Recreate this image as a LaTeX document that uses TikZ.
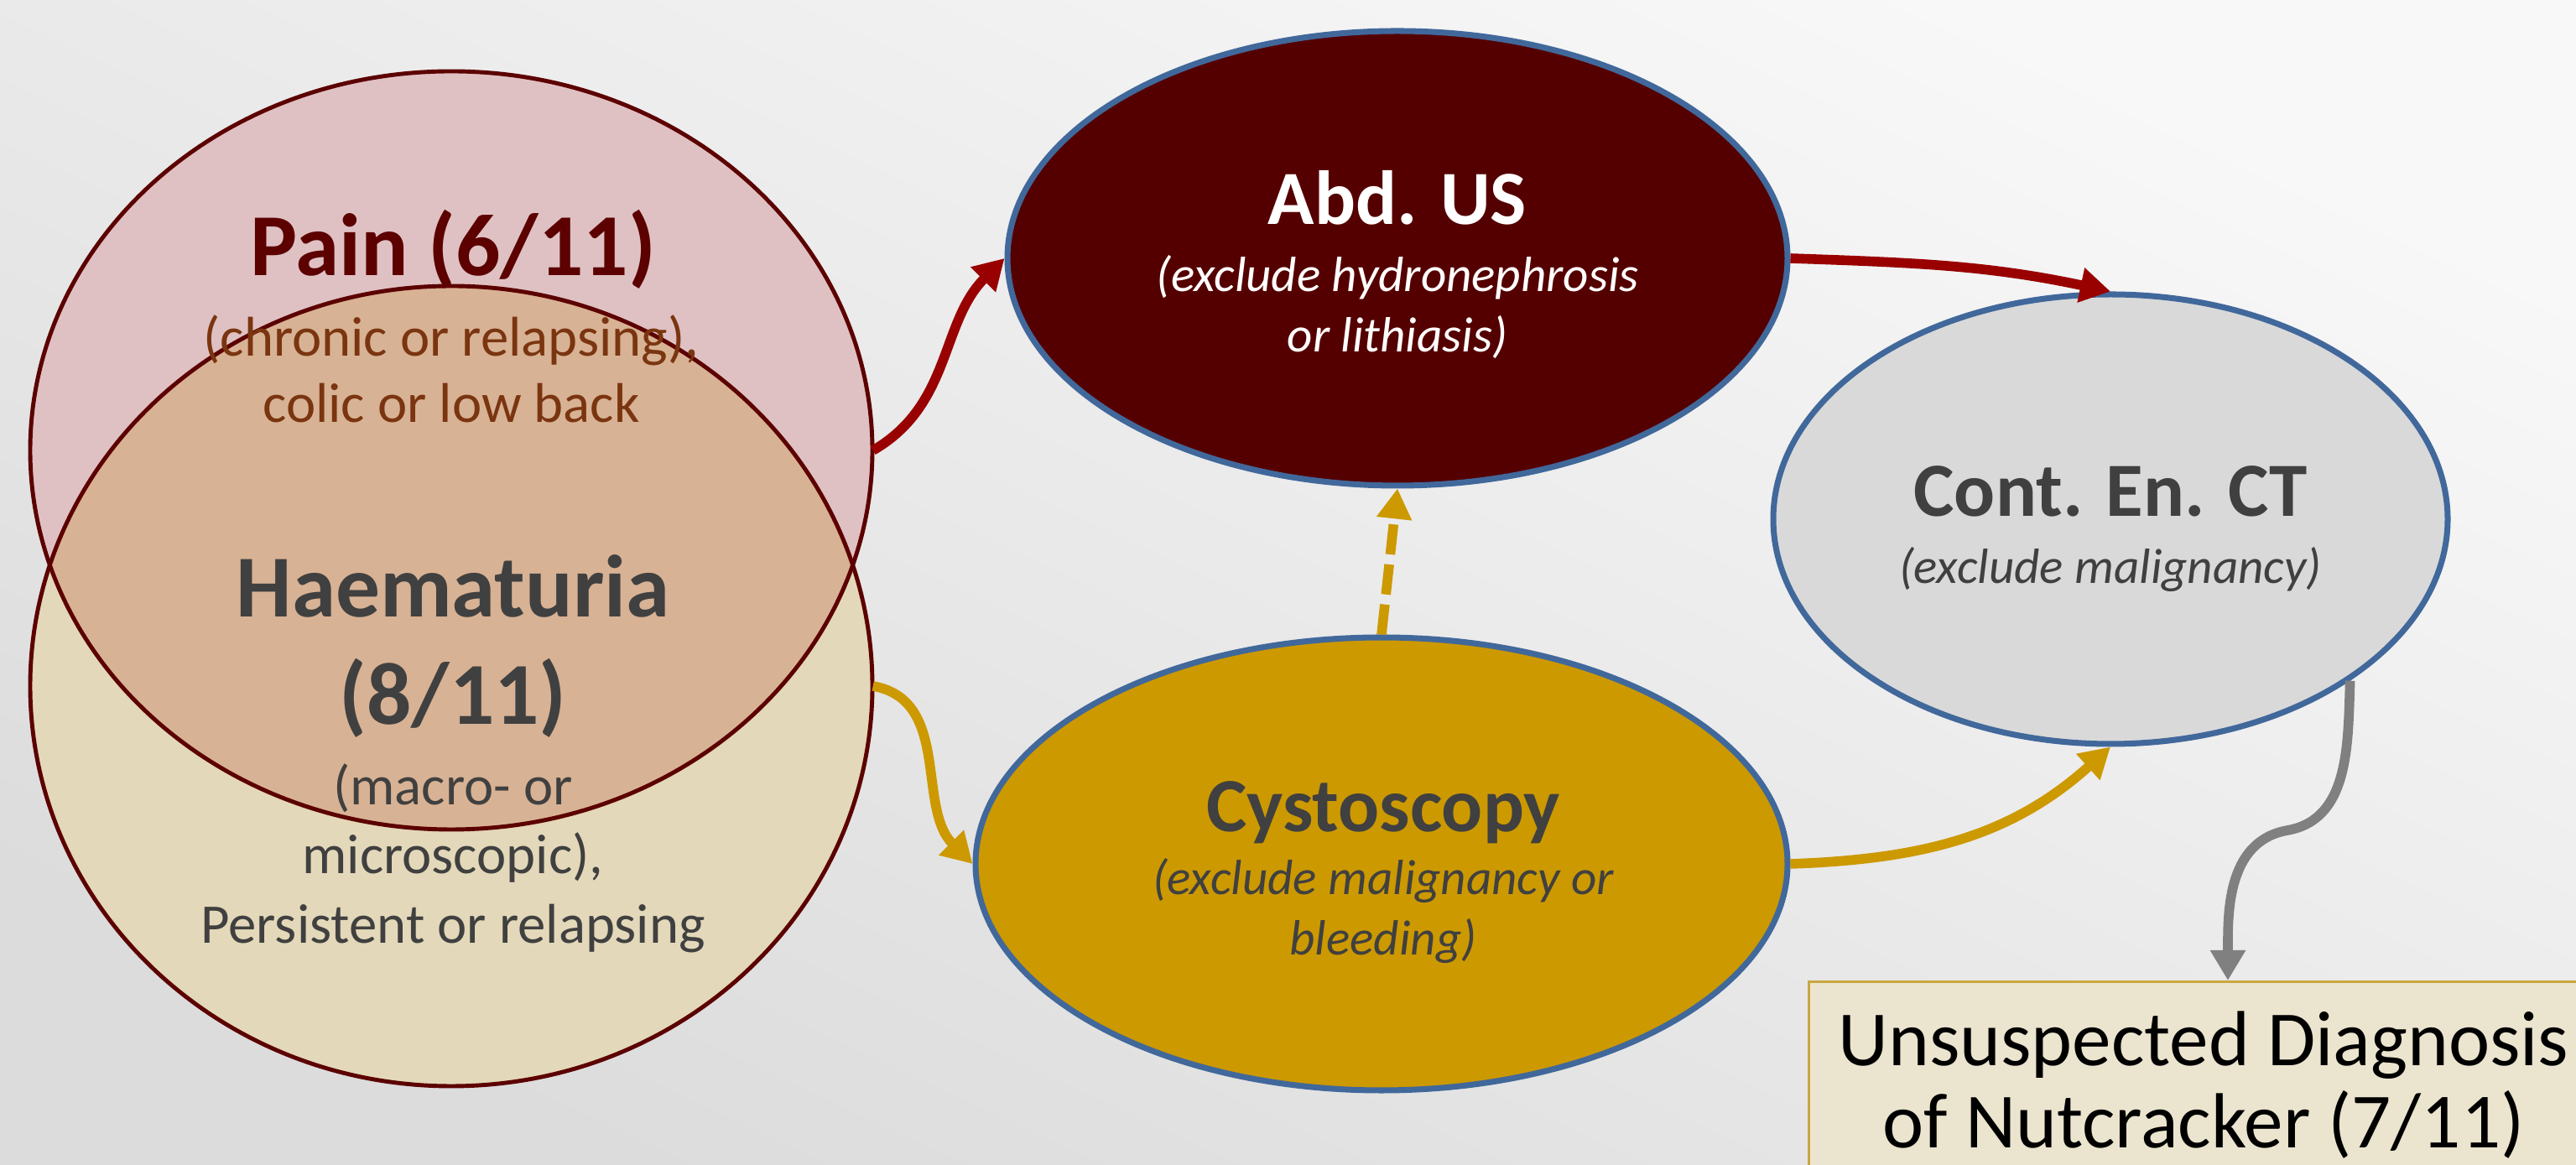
\documentclass[tikz,border=0pt]{standalone}
\usepackage{fontspec}
\setmainfont{Carlito}
\usetikzlibrary{shapes.geometric,arrows.meta}

\definecolor{bgtop}{HTML}{F8F8F8}
\definecolor{bgbot}{HTML}{DCDCDC}
\definecolor{painfill}{HTML}{DFC1C3}
\definecolor{haemfill}{HTML}{E3D8B9}
\definecolor{bothfill}{HTML}{D8B294}
\definecolor{vennline}{HTML}{5C0000}
\definecolor{painsub}{HTML}{7A3510}
\definecolor{darktext}{HTML}{404040}
\definecolor{usfill}{HTML}{550000}
\definecolor{cystfill}{HTML}{CC9900}
\definecolor{ctfill}{HTML}{D9D9D9}
\definecolor{rimblue}{HTML}{41689B}
\definecolor{redarrow}{HTML}{990000}
\definecolor{goldarrow}{HTML}{CC9900}
\definecolor{grayarrow}{HTML}{808080}
\definecolor{boxfill}{HTML}{EBE4CE}
\definecolor{boxline}{HTML}{C9A640}

\tikzset{
  venn/.style={ellipse, inner sep=0pt},
  test/.style={ellipse, draw=rimblue, line width=2pt, inner sep=0pt},
  bigtitle/.style={anchor=base, font=\fontsize{30}{36}\selectfont\bfseries},
  smalltext/.style={anchor=base, font=\fontsize{19}{23}\selectfont},
  testtitle/.style={anchor=base, font=\fontsize{26}{30}\selectfont\bfseries},
  testnote/.style={anchor=base, font=\fontsize{16.8}{20}\selectfont\itshape},
  outcome/.style={rectangle, draw=boxline, fill=boxfill, line width=0.8pt,
    minimum width=9.3cm, inner sep=0.35cm, align=center,
    font=\fontsize{26.5}{28}\selectfont},
  flow/.style={line width=3.3pt, -{Triangle[length=0.36cm,width=0.4cm]}},
}

\begin{document}
\begin{tikzpicture}
  \useasboundingbox (0,0) rectangle (30.71,13.89);
  \clip (0,0) rectangle (30.71,13.89);
  \shade[top color=bgtop, bottom color=bgbot, shading angle=-25] (0,0) rectangle (30.71,13.89);

  % Venn of the two symptoms
  \node[venn, fill=haemfill, minimum width=10.04cm, minimum height=9.54cm] (haem) at (5.38,5.71) {};
  \node[venn, fill=painfill, minimum width=10.04cm, minimum height=9.04cm] (pain) at (5.38,8.52) {};
  \begin{scope}
    \clip (5.38,8.52) ellipse [x radius=5.02, y radius=4.52];
    \fill[bothfill] (5.38,5.71) ellipse [x radius=5.02, y radius=4.77];
  \end{scope}
  \draw[vennline, line width=1.4pt] (5.38,5.71) ellipse [x radius=5.02, y radius=4.77];
  \draw[vennline, line width=1.4pt] (5.38,8.52) ellipse [x radius=5.02, y radius=4.52];

  \node[bigtitle, text=vennline] (painname) at (5.40,10.60) {Pain (6/11)};
  \node[smalltext, text=painsub] (painkind) at (5.38,9.64) {(chronic or relapsing),};
  \node[smalltext, text=painsub] (painsite) at (5.38,8.85) {colic or low back};
  \node[bigtitle, text=darktext] (haemname) at (5.40,6.53) {Haematuria};
  \node[bigtitle, text=darktext] (haemcount) at (5.40,5.25) {(8/11)};
  \node[smalltext, text=darktext] (haemkind) at (5.40,4.29) {(macro- or};
  \node[smalltext, text=darktext] (haemkindb) at (5.40,3.47) {microscopic),};
  \node[smalltext, text=darktext] (haemcourse) at (5.40,2.64) {Persistent or relapsing};

  % Work-up
  \node[test, fill=usfill, minimum width=9.3cm, minimum height=5.42cm] (us) at (16.66,10.81) {};
  \node[test, fill=cystfill, minimum width=9.68cm, minimum height=5.4cm] (cyst) at (16.47,3.59) {};
  \node[test, fill=ctfill, minimum width=8.04cm, minimum height=5.36cm] (ct) at (25.16,7.70) {};

  \node[testtitle, text=white] (usname) at (16.66,11.21) {Abd. US};
  \node[testnote, text=white] (usnote) at (16.66,10.41) {(exclude hydronephrosis};
  \node[testnote, text=white] (usnoteb) at (16.66,9.69) {or lithiasis)};
  \node[testtitle, text=darktext] (cystname) at (16.49,3.97) {Cystoscopy};
  \node[testnote, text=darktext] (cystnote) at (16.49,3.22) {(exclude malignancy or};
  \node[testnote, text=darktext] (cystnoteb) at (16.49,2.50) {bleeding)};
  \node[testtitle, text=darktext] (ctname) at (25.16,7.73) {Cont. En. CT};
  \node[testnote, text=darktext] (ctnote) at (25.16,6.93) {(exclude malignancy)};

  \node[outcome, anchor=north] (nut) at (26.27,2.20) {Unsuspected Diagnosis\\of Nutcracker (7/11)};

  % Arrows
  \draw[flow, redarrow] (pain.east) to[out=30,in=225] (us.west);
  \draw[flow, redarrow] (us.east) to[out=-2,in=168] (ct.north);
  \draw[flow, goldarrow, dash pattern=on 0.36cm off 0.12cm] (cyst.north) -- (us.south);
  \draw[flow, goldarrow] (haem.east) to[out=-10,in=135] (cyst.west);
  \draw[flow, goldarrow] (cyst.east) to[out=2,in=222] (ct.south);
  \coordinate (kink) at (27.27,3.99);
  \draw[flow, grayarrow] (ct.-34) to[out=-92,in=10] (kink) to[out=190,in=90] ([xshift=0.29cm]nut.north);
\end{tikzpicture}
\end{document}
